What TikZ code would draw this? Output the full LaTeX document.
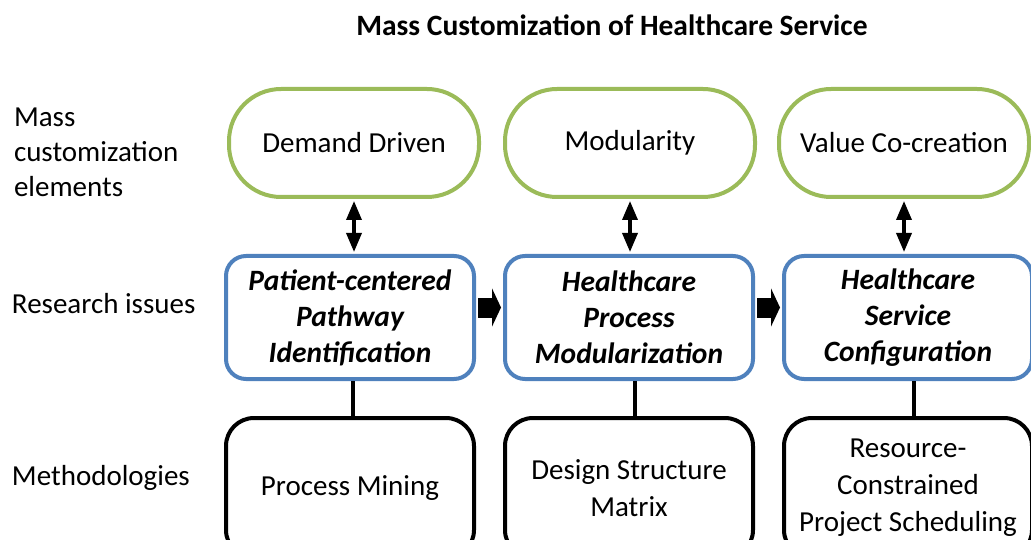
\documentclass[tikz,border=0pt]{standalone}
\usepackage{fontspec}
\setmainfont{Carlito}
\usetikzlibrary{arrows.meta}

\definecolor{elemgreen}{RGB}{155,187,89}
\definecolor{issueblue}{RGB}{79,129,189}

\begin{document}
\begin{tikzpicture}[x=1pt,y=-1pt,line width=4pt,node distance=279pt,
                    font=\fontsize{29}{35}\selectfont]
  \tikzstyle{elembox}=[draw=elemgreen,rounded corners=52pt,minimum width=250pt,
                       minimum height=108pt,align=center]
  \tikzstyle{issuebox}=[draw=issueblue,rounded corners=20pt,minimum width=248pt,
                        minimum height=123pt,align=center,
                        font=\fontsize{29.5}{36}\selectfont\bfseries\itshape]
  \tikzstyle{methodbox}=[draw=black,rounded corners=28pt,minimum width=248pt,
                         minimum height=140pt,align=center,
                         font=\fontsize{29}{37}\selectfont]
  \tikzstyle{rowlabel}=[anchor=west,align=left,inner sep=0pt]
  \tikzstyle{dblarrow}=[{Triangle[width=15pt,length=19pt]}-{Triangle[width=15pt,length=19pt]},
                        line width=3.5pt,shorten <=2pt,shorten >=2pt]
  \tikzstyle{flow}=[-{Triangle[width=38pt,length=9pt]},line width=20pt,
                    shorten <=2pt,shorten >=2pt]

  \clip (0,0) rectangle (1031,540);

  \node[font=\fontsize{29.5}{34}\selectfont\bfseries] (title) at (612,25)
       {Mass Customization of Healthcare Service};

  % row labels
  \node[rowlabel] (lelem)  at (12,152) {Mass\\customization\\elements};
  \node[rowlabel] (lissue) at (10,304) {Research issues};
  \node[rowlabel] (lmeth)  at (10,478) {Methodologies};

  % mass customization elements
  \node[elembox] (dem) at (354,143)                      {Demand Driven};
  \node[elembox] (mod) [right of=dem,node distance=276pt] {Modularity};
  \node[elembox] (val) [right of=mod,node distance=274pt] {Value Co-creation};

  % research issues
  \node[issuebox] (pat) at (350,317.5) {Patient-centered\\Pathway\\Identification};
  \node[issuebox] (hpm) [right of=pat] {Healthcare\\Process\\Modularization};
  \node[issuebox] (hsc) [right of=hpm] {Healthcare\\Service\\Configuration};

  % methodologies
  \node[methodbox] (pmi) at (350,488)  {Process Mining};
  \node[methodbox] (dsm) [right of=pmi] {Design Structure\\Matrix};
  \node[methodbox] (rcp) [right of=dsm] {Resource-\\Constrained\\Project Scheduling};

  \path (dem.south) edge[dblarrow] (dem.south |- pat.north)
        (mod.south) edge[dblarrow] (mod.south |- hpm.north)
        (val.south) edge[dblarrow] (val.south |- hsc.north);

  \path ([yshift=10pt]pat.east) edge[flow] ([yshift=10pt]hpm.west)
        ([yshift=10pt]hpm.east) edge[flow] ([yshift=10pt]hsc.west);

  \path ([xshift=3pt]pat.south) edge ([xshift=3pt]pat.south |- pmi.north)
        ([xshift=6pt]hpm.south) edge ([xshift=6pt]hpm.south |- dsm.north)
        ([xshift=6pt]hsc.south) edge ([xshift=6pt]hsc.south |- rcp.north);
\end{tikzpicture}
\end{document}
